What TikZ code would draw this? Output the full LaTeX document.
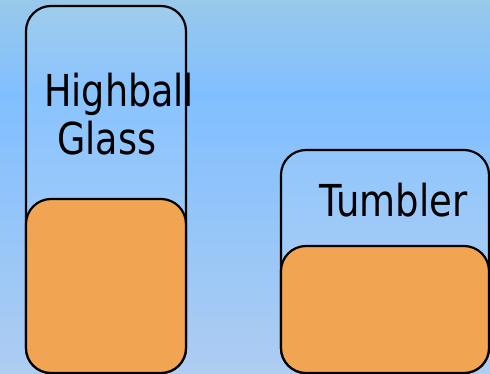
\documentclass[tikz,border=0pt]{standalone}
\usepackage{fontspec}
\setmainfont{DejaVu Sans}
\definecolor{bgtop}{RGB}{152,201,234}
\definecolor{bgmid}{RGB}{128,191,255}
\definecolor{bgbot}{RGB}{174,205,241}
\definecolor{juice}{RGB}{241,165,82}
\tikzset{
  glass/.style={draw=black, line width=2.2pt, fill=white, fill opacity=0.08, draw opacity=1},
  liquid/.style={draw=black, line width=2.2pt, fill=juice},
  lbl/.style={inner sep=0pt, anchor=base west, font=\fontsize{44}{50}\selectfont}
}
\begin{document}
\begin{tikzpicture}[x=1pt,y=-1pt]
\useasboundingbox (0,0) rectangle (490,374);
\clip (0,0) rectangle (490,374);
\shade[top color=bgtop, bottom color=bgmid] (0,0) rectangle (490,95);
\shade[top color=bgmid, bottom color=bgbot] (0,95) rectangle (490,374);
% highball glass
\draw[glass, rounded corners=25pt] (26,6) rectangle (186,373);
\draw[liquid, rounded corners=25pt] (26,199) rectangle (186,373);
% tumbler
\draw[glass, rounded corners=25pt] (281,150) rectangle (489,373);
\draw[liquid, rounded corners=25pt] (281,246) rectangle (489,373);
\node[lbl] (hb) at (44,107) {\scalebox{0.83}[1]{Highball}};
\node[lbl] (gl) at (57,155) {\scalebox{0.83}[1]{Glass}};
\node[lbl] (tu) at (319,217) {\scalebox{0.84}[1]{Tumbler}};
\end{tikzpicture}
\end{document}
